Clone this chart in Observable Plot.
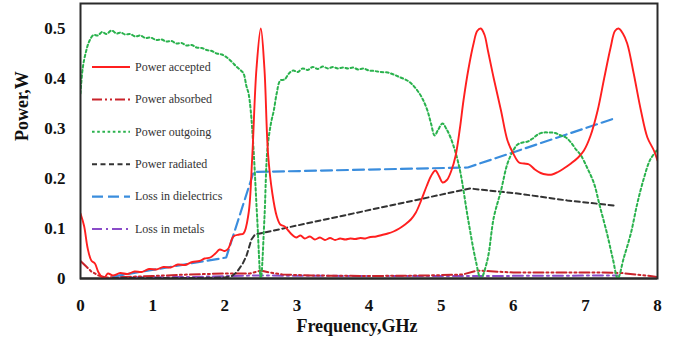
<!DOCTYPE html>
<html>
<head>
<meta charset="utf-8">
<script src="https://cdn.jsdelivr.net/npm/d3@7"></script>
<script src="https://cdn.jsdelivr.net/npm/@observablehq/plot@0.6"></script>
<style>
  html, body { margin: 0; padding: 0; background: #fff; }
  #chart { position: relative; width: 687px; height: 342px; }
  #chart svg { display: block; }
  #legend { position: absolute; left: 0; top: 0; pointer-events: none; }
</style>
</head>
<body>
<div id="chart"></div>
<script>
// Frequency (GHz) and power (W) samples for each simulated quantity
const freqAccepted = [0,0.05,0.1,0.15,0.2,0.25,0.32,0.38,0.45,0.55,0.65,0.75,0.85,0.95,1.05,1.15,1.25,1.35,1.45,1.55,1.65,1.72,1.8,1.87,1.93,2.0,2.05,2.12,2.2,2.26,2.33,2.38,2.44,2.5,2.55,2.6,2.66,2.72,2.77,2.83,2.88,2.93,2.99,3.05,3.11,3.18,3.25,3.32,3.39,3.46,3.53,3.6,3.67,3.74,3.81,3.88,3.95,4.02,4.1,4.18,4.26,4.34,4.42,4.5,4.58,4.65,4.72,4.8,4.86,4.92,4.97,5.02,5.08,5.14,5.2,5.26,5.31,5.38,5.45,5.5,5.55,5.6,5.65,5.73,5.83,5.92,6.0,6.08,6.15,6.22,6.3,6.38,6.46,6.54,6.62,6.7,6.8,6.9,6.98,7.07,7.17,7.26,7.35,7.41,7.46,7.52,7.58,7.67,7.77,7.86,7.95,8.0];
const powerAccepted = [0.13,0.105,0.06,0.036,0.03,0.012,0.0,0.01,0.006,0.011,0.009,0.014,0.013,0.019,0.018,0.023,0.022,0.028,0.027,0.033,0.035,0.04,0.042,0.05,0.058,0.055,0.06,0.084,0.088,0.09,0.13,0.24,0.42,0.5,0.42,0.25,0.17,0.125,0.108,0.104,0.096,0.088,0.082,0.086,0.08,0.084,0.078,0.082,0.077,0.081,0.077,0.08,0.078,0.08,0.079,0.081,0.08,0.083,0.084,0.087,0.09,0.094,0.1,0.108,0.118,0.132,0.155,0.185,0.205,0.216,0.205,0.192,0.197,0.215,0.245,0.3,0.356,0.42,0.47,0.495,0.5,0.488,0.455,0.4,0.336,0.276,0.25,0.232,0.23,0.228,0.218,0.211,0.208,0.208,0.213,0.22,0.23,0.242,0.256,0.285,0.336,0.4,0.462,0.495,0.5,0.49,0.47,0.41,0.336,0.282,0.256,0.236];

const freqAbsorbed = [0,0.08,0.15,0.25,0.35,0.6,1.0,1.5,2.0,2.35,2.5,2.62,2.8,3.2,4.0,4.8,5.3,5.5,5.62,6.0,6.6,7.2,7.5,7.7,7.9,8.0];
const powerAbsorbed = [0.035,0.024,0.014,0.006,0.002,0.003,0.005,0.008,0.01,0.01,0.016,0.012,0.008,0.006,0.005,0.006,0.008,0.016,0.015,0.012,0.012,0.012,0.011,0.008,0.005,0.003];

const freqOutgoing = [0,0.03,0.07,0.12,0.18,0.24,0.3,0.36,0.43,0.5,0.56,0.62,0.69,0.76,0.83,0.9,0.97,1.05,1.12,1.19,1.26,1.33,1.4,1.47,1.54,1.61,1.68,1.75,1.82,1.89,1.96,2.03,2.1,2.16,2.21,2.26,2.3,2.33,2.36,2.4,2.45,2.5,2.55,2.59,2.64,2.68,2.72,2.77,2.83,2.89,2.95,3.01,3.08,3.15,3.22,3.29,3.36,3.43,3.5,3.57,3.64,3.71,3.78,3.85,3.92,4.0,4.08,4.16,4.26,4.34,4.42,4.53,4.6,4.67,4.74,4.81,4.86,4.91,4.96,5.02,5.07,5.13,5.2,5.27,5.37,5.48,5.55,5.64,5.73,5.83,5.92,6.0,6.06,6.13,6.2,6.27,6.34,6.42,6.5,6.58,6.66,6.73,6.8,6.87,6.93,7.03,7.12,7.2,7.3,7.38,7.45,7.53,7.63,7.72,7.81,7.9,8.0];
const powerOutgoing = [0.37,0.42,0.45,0.474,0.487,0.486,0.493,0.489,0.496,0.49,0.492,0.488,0.489,0.484,0.486,0.481,0.482,0.477,0.478,0.474,0.475,0.47,0.471,0.466,0.467,0.462,0.461,0.457,0.455,0.45,0.448,0.442,0.433,0.424,0.418,0.41,0.385,0.37,0.336,0.256,0.12,0.0,0.12,0.256,0.31,0.336,0.37,0.396,0.398,0.41,0.416,0.413,0.42,0.417,0.423,0.419,0.424,0.42,0.423,0.42,0.422,0.42,0.422,0.418,0.42,0.416,0.415,0.413,0.412,0.408,0.403,0.396,0.388,0.376,0.36,0.336,0.31,0.286,0.298,0.31,0.3,0.282,0.252,0.21,0.122,0.036,0.0,0.036,0.122,0.176,0.23,0.256,0.268,0.272,0.274,0.28,0.288,0.292,0.292,0.291,0.286,0.282,0.272,0.258,0.248,0.22,0.19,0.145,0.09,0.04,0.0,0.04,0.09,0.15,0.2,0.238,0.258];

const freqRadiated = [0.45,1.0,1.6,2.0,2.1,2.17,2.25,2.3,2.37,2.42,5.4,6.06,6.75,7.4];
const powerRadiated = [0.001,0.001,0.001,0.002,0.005,0.013,0.03,0.045,0.078,0.088,0.18,0.17,0.156,0.146];

const freqDielectrics = [0.45,2.02,2.4,5.37,7.4];
const powerDielectrics = [0.004,0.042,0.213,0.222,0.32];

const freqMetals = [0.45,1.5,2.4,4.0,5.5,7.45];
const powerMetals = [0.002,0.003,0.006,0.005,0.005,0.006];

const xTicks = [0,1,2,3,4,5,6,7,8];
const yTicks = [0,0.1,0.2,0.3,0.4,0.5];

// Series names (legend order) with their sample arrays
const series = [
  {name: "Power accepted", f: freqAccepted, p: powerAccepted},
  {name: "Power absorbed", f: freqAbsorbed, p: powerAbsorbed},
  {name: "Power outgoing", f: freqOutgoing, p: powerOutgoing},
  {name: "Power radiated", f: freqRadiated, p: powerRadiated},
  {name: "Loss in dielectrics", f: freqDielectrics, p: powerDielectrics},
  {name: "Loss in metals", f: freqMetals, p: powerMetals}
];

// Stroke styles per series
const styles = {
  "Power accepted":      {stroke: "#ff1f1f", strokeWidth: 1.9, dash: null,           curve: "catmull-rom"},
  "Power absorbed":      {stroke: "#c9232b", strokeWidth: 2,   dash: "10,3,2,3,2,3", curve: "linear"},
  "Power outgoing":      {stroke: "#2ab24d", strokeWidth: 2,   dash: "2.6,2.6",      curve: "catmull-rom"},
  "Power radiated":      {stroke: "#333333", strokeWidth: 2,   dash: "5,3.5",        curve: "linear"},
  "Loss in dielectrics": {stroke: "#3a8ddd", strokeWidth: 2.2, dash: "11,5",         curve: "linear"},
  "Loss in metals":      {stroke: "#8a4cc8", strokeWidth: 2,   dash: "10,4,2,4",     curve: "linear"}
};

const rowsOf = s => s.f.map((f, i) => ({f, p: s.p[i]}));

// Drawing order: small losses first, accepted power on top
const drawOrder = ["Loss in metals", "Power absorbed", "Loss in dielectrics", "Power radiated", "Power outgoing", "Power accepted"];

const serif = "'Liberation Serif', 'Times New Roman', serif";

const chart = Plot.plot({
  width: 687,
  height: 342,
  marginLeft: 80,
  marginRight: 30,
  marginTop: 3,
  marginBottom: 64,
  style: {fontFamily: serif, background: "#fff", color: "#111"},
  x: {domain: [0, 8]},
  y: {domain: [0, 0.55]},
  marks: [
    Plot.ruleY([0], {stroke: "#8a8a8a", strokeWidth: 3}),
    ...drawOrder.map(name => {
      const s = series.find(d => d.name === name);
      const st = styles[name];
      return Plot.line(rowsOf(s), {
        x: "f", y: "p",
        stroke: st.stroke,
        strokeWidth: st.strokeWidth,
        strokeDasharray: st.dash,
        curve: st.curve,
        clip: true
      });
    }),
    Plot.frame({stroke: "#2a2a2a", strokeWidth: 2}),
    Plot.axisX({ticks: xTicks, tickSize: 0, tickPadding: 20, fontSize: 17, fontWeight: "bold", label: null, tickFormat: d => String(d)}),
    Plot.axisY({ticks: yTicks, tickSize: 0, tickPadding: 15, fontSize: 17, fontWeight: "bold", label: null, tickFormat: d => String(d)}),
    Plot.text(["Frequency,GHz"], {frameAnchor: "bottom", text: d => d, dy: 48, dx: -12, fontSize: 18, fontWeight: "bold", lineAnchor: "middle", fill: "#111"}),
    Plot.text(["Power,W"], {frameAnchor: "left", text: d => d, rotate: -90, dx: -58, fontSize: 18, fontWeight: "bold", lineAnchor: "middle", fill: "#111"})
  ]
});

const root = document.getElementById("chart");
root.appendChild(chart);

// Legend drawn inside the plot area, to the left
const legend = d3.select(root).append("svg")
  .attr("id", "legend")
  .attr("width", 687)
  .attr("height", 342);

const legendX0 = 92, legendX1 = 130, legendTextX = 135, legendY0 = 67, legendStep = 32.4;

series.forEach((s, i) => {
  const st = styles[s.name];
  const y = legendY0 + i * legendStep;
  legend.append("line")
    .attr("x1", legendX0).attr("x2", legendX1)
    .attr("y1", y).attr("y2", y)
    .attr("stroke", st.stroke)
    .attr("stroke-width", st.strokeWidth)
    .attr("stroke-dasharray", st.dash);
  legend.append("text")
    .attr("x", legendTextX).attr("y", y)
    .attr("dy", "0.32em")
    .attr("font-family", serif)
    .attr("font-size", 12)
    .attr("fill", "#333")
    .text(s.name);
});
</script>
</body>
</html>
